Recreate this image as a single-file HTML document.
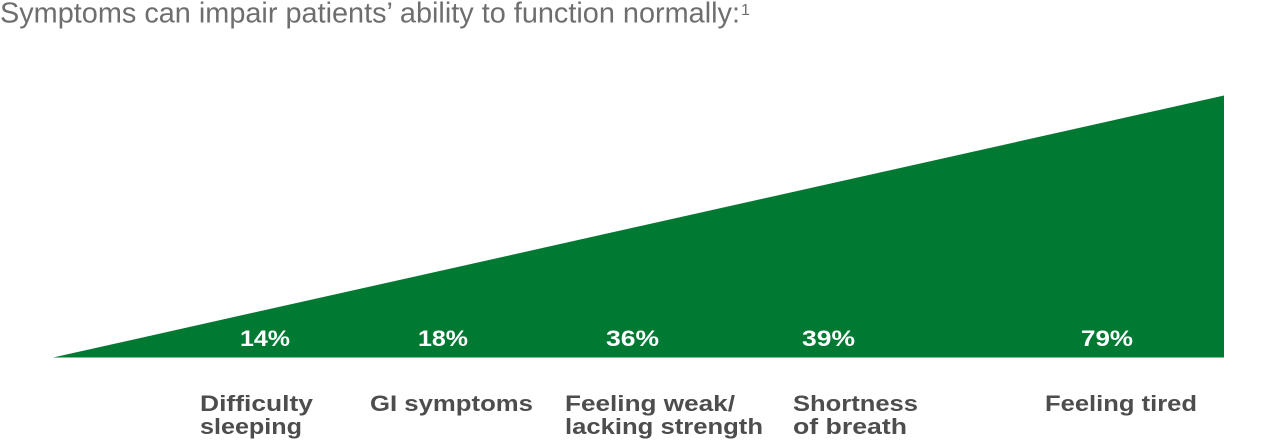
<!DOCTYPE html>
<html><head><meta charset="utf-8"><style>
html,body{margin:0;padding:0;background:#fff;}
svg{display:block;}
</style></head><body>
<svg width="1280" height="441" viewBox="0 0 1280 441" xmlns="http://www.w3.org/2000/svg">
<text x="0" y="22.5" font-family="Liberation Sans, sans-serif" font-size="29" fill="#6e6e6e" textLength="740" lengthAdjust="spacingAndGlyphs">Symptoms can impair patients’ ability to function normally:</text>
<text x="741" y="15" font-family="Liberation Sans, sans-serif" font-size="16" fill="#6e6e6e">1</text>
<polygon points="53,357.5 1224,95.5 1224,357.5" fill="#007a33"/>
<g font-family="Liberation Sans, sans-serif" font-size="22" font-weight="bold" fill="#ffffff">
<text x="240" y="346" textLength="50" lengthAdjust="spacingAndGlyphs">14%</text>
<text x="418" y="346" textLength="50" lengthAdjust="spacingAndGlyphs">18%</text>
<text x="606" y="346" textLength="53" lengthAdjust="spacingAndGlyphs">36%</text>
<text x="802" y="346" textLength="53" lengthAdjust="spacingAndGlyphs">39%</text>
<text x="1081" y="346" textLength="52" lengthAdjust="spacingAndGlyphs">79%</text>
</g>
<g font-family="Liberation Sans, sans-serif" font-size="22" font-weight="bold" fill="#4d4d4d">
<text x="200" y="411" textLength="113" lengthAdjust="spacingAndGlyphs">Difficulty</text>
<text x="200" y="434" textLength="102" lengthAdjust="spacingAndGlyphs">sleeping</text>
<text x="370" y="411" textLength="163" lengthAdjust="spacingAndGlyphs">GI symptoms</text>
<text x="565" y="411" textLength="170" lengthAdjust="spacingAndGlyphs">Feeling weak/</text>
<text x="565" y="434" textLength="198" lengthAdjust="spacingAndGlyphs">lacking strength</text>
<text x="793" y="411" textLength="125" lengthAdjust="spacingAndGlyphs">Shortness</text>
<text x="793" y="434" textLength="114" lengthAdjust="spacingAndGlyphs">of breath</text>
<text x="1045" y="411" textLength="152" lengthAdjust="spacingAndGlyphs">Feeling tired</text>
</g>
</svg>
</body></html>
